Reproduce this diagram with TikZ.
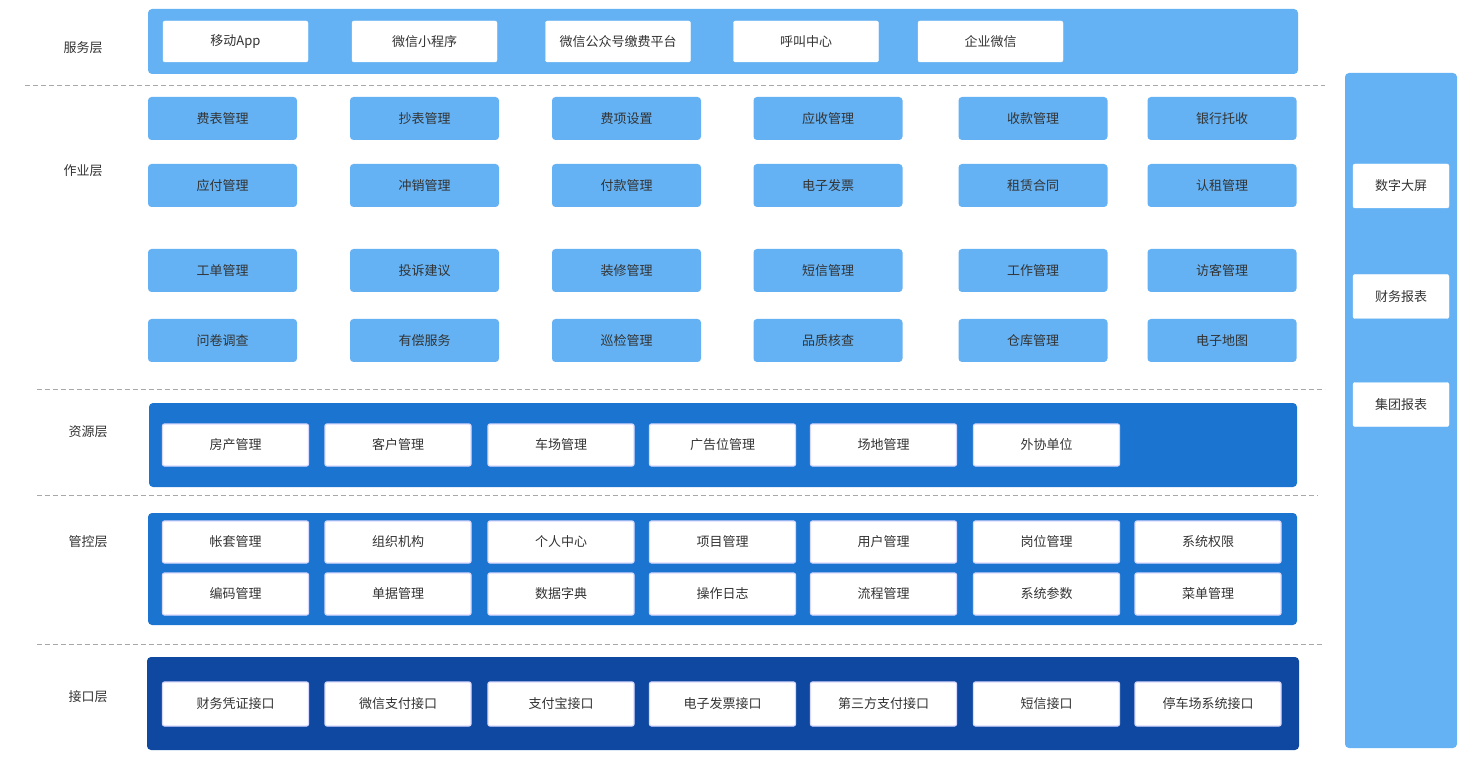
\documentclass[tikz,border=0pt]{standalone}
\usepackage{fontspec}
\newfontfamily\cjk{Noto Sans CJK SC}
\definecolor{lightb}{HTML}{64B2F4}
\definecolor{midb}{HTML}{1A74D0}
\definecolor{darkb}{HTML}{0E48A0}
\definecolor{txt}{HTML}{333333}
\definecolor{dashc}{HTML}{A8A8A8}
\tikzset{
  lbl/.style={font=\cjk\fontsize{13}{15}\selectfont, text=txt, inner sep=0pt},
  wbox/.style={lbl, fill=white, draw=white, rounded corners=2pt, minimum width=#1, minimum height=42pt},
  opbox/.style={lbl, fill=lightb, rounded corners=3.5pt, minimum width=149pt, minimum height=43pt},
  glowbox/.style={lbl, fill=white, draw=blue!15, line width=1.2pt, rounded corners=2pt, minimum width=146pt, minimum height=42pt},
  panel/.style={rounded corners=4pt, inner sep=0pt},
  sep/.style={dashc, dash pattern=on 5pt off 3pt, line width=0.7pt}
}
\begin{document}
\begin{tikzpicture}[x=1pt,y=-1pt]
\useasboundingbox (0,0) rectangle (1465,759);
\fill[white] (0,0) rectangle (1465,759);
% panels
\node[panel, fill=lightb, minimum width=1150pt, minimum height=65pt] (psvc) at (723,41.5) {};
\node[panel, fill=midb, minimum width=1148pt, minimum height=84pt] (pres) at (723,445) {};
\node[panel, fill=midb, minimum width=1149pt, minimum height=112pt] (pctl) at (722.5,569) {};
\node[panel, fill=darkb, minimum width=1152pt, minimum height=93pt] (pint) at (723,703.5) {};
\node[panel, fill=lightb, minimum width=112pt, minimum height=675pt] (pright) at (1401,410.5) {};
% dashed separators
\coordinate (d1a) at (25,85); \coordinate (d1b) at (1325,85);
\coordinate (d2a) at (37,389); \coordinate (d2b) at (1325,389);
\coordinate (d3a) at (37,495); \coordinate (d3b) at (1318,495);
\coordinate (d4a) at (37,644); \coordinate (d4b) at (1323,644);
\draw[sep] (d1a) -- (d1b);
\draw[sep] (d2a) -- (d2b);
\draw[sep] (d3a) -- (d3b);
\draw[sep] (d4a) -- (d4b);
% layer labels
\node[lbl] (l1) at (83,48) {服务层};
\node[lbl] (l2) at (83,171) {作业层};
\node[lbl] (l3) at (88,432) {资源层};
\node[lbl] (l4) at (88,542) {管控层};
\node[lbl] (l5) at (88,697) {接口层};
% service layer
\foreach \x/\t [count=\i] in {235.5/移动App, 424.5/微信小程序, 618/微信公众号缴费平台, 806/呼叫中心, 990.5/企业微信}
  \node[wbox=145pt, minimum height=41pt] (s\i) at (\x,41.5) {\t};
% operation layer
\foreach \y/\r/\row in {118.5/1/{费表管理,抄表管理,费项设置,应收管理,收款管理,银行托收},
                       185.5/2/{应付管理,冲销管理,付款管理,电子发票,租赁合同,认租管理},
                       270.5/3/{工单管理,投诉建议,装修管理,短信管理,工作管理,访客管理},
                       340.5/4/{问卷调查,有偿服务,巡检管理,品质核查,仓库管理,电子地图}} {
  \foreach \t [count=\c] in \row {
    \pgfmathsetmacro{\xx}{{222.5,424.5,626.5,828,1033,1222}[\c-1]}
    \node[opbox] (o\r-\c) at (\xx,\y) {\t};
  }
}
% resource layer
\foreach \t [count=\c] in {房产管理,客户管理,车场管理,广告位管理,场地管理,外协单位} {
  \pgfmathsetmacro{\xx}{{235.5,398,561,722.5,883.5,1046.5,1208}[\c-1]}
  \node[glowbox] (r\c) at (\xx,445) {\t};
}
% control layer
\foreach \y/\r/\row in {542/1/{帐套管理,组织机构,个人中心,项目管理,用户管理,岗位管理,系统权限},
                       594/2/{编码管理,单据管理,数据字典,操作日志,流程管理,系统参数,菜单管理}} {
  \foreach \t [count=\c] in \row {
    \pgfmathsetmacro{\xx}{{235.5,398,561,722.5,883.5,1046.5,1208}[\c-1]}
    \node[glowbox] (c\r-\c) at (\xx,\y) {\t};
  }
}
% interface layer
\foreach \t [count=\c] in {财务凭证接口,微信支付接口,支付宝接口,电子发票接口,第三方支付接口,短信接口,停车场系统接口} {
  \pgfmathsetmacro{\xx}{{235.5,398,561,722.5,883.5,1046.5,1208}[\c-1]}
  \node[glowbox, minimum height=44pt] (i\c) at (\xx,704) {\t};
}
% right column
\node[wbox=96pt, minimum height=44pt] (rt1) at (1401,186) {数字大屏};
\node[wbox=96pt, minimum height=44pt] (rt2) at (1401,296.5) {财务报表};
\node[wbox=96pt, minimum height=44pt] (rt3) at (1401,404.5) {集团报表};
\end{tikzpicture}
\end{document}
